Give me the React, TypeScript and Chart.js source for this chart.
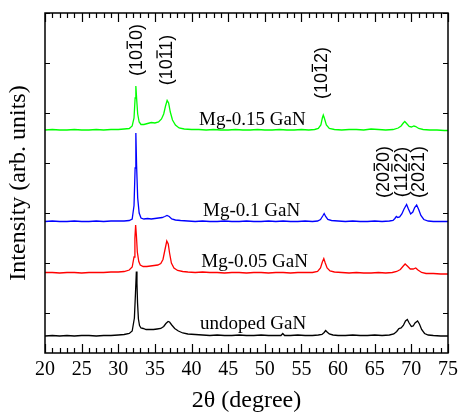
import { useEffect, useRef } from "react";
import { Chart, registerables } from "chart.js";

Chart.register(...registerables);

// ---- data (2θ in degrees, intensity in stacked arbitrary units) ----
const undopedTrace: number[][] = [
  [20, -0.46], [21, -0.45], [22, -0.46], [23, -0.45], [24, -0.46], [25, -0.45], [26, -0.45], [27, -0.46],
  [28, -0.45], [29, -0.45], [30, -0.44], [30.8, -0.43], [31.5, -0.41], [31.9, -0.36], [32.2, -0.1],
  [32.35, 0.4], [32.47, 0.83], [32.55, 0.6], [32.63, 0.2], [32.75, -0.12], [32.9, -0.25], [33.1, -0.3],
  [33.4, -0.31], [33.8, -0.33], [34.3, -0.33], [34.8, -0.33], [35.3, -0.32], [35.8, -0.31], [36.2, -0.27],
  [36.5, -0.21], [36.8, -0.17], [37.0, -0.18], [37.3, -0.24], [37.7, -0.31], [38.2, -0.36], [38.8, -0.4],
  [39.5, -0.42], [40.5, -0.43], [41.5, -0.44], [42.5, -0.45], [43.5, -0.44], [44.5, -0.45], [45.5, -0.45],
  [46.5, -0.44], [47.5, -0.45], [48.5, -0.45], [49.5, -0.44], [50.5, -0.45], [51.5, -0.45], [52.2, -0.45],
  [52.45, -0.41], [52.7, -0.45], [53.5, -0.45], [54.5, -0.44], [55.5, -0.45], [56.5, -0.45], [57.3, -0.44],
  [57.8, -0.43], [58.1, -0.39], [58.3, -0.35], [58.5, -0.38], [58.8, -0.42], [59.3, -0.44], [60, -0.45],
  [61, -0.45], [62, -0.44], [63, -0.45], [64, -0.45], [65, -0.44], [66, -0.45], [67, -0.44], [67.6, -0.42],
  [68.0, -0.37], [68.3, -0.31], [68.6, -0.3], [68.9, -0.25], [69.2, -0.16], [69.45, -0.13], [69.7, -0.2],
  [70.0, -0.27], [70.25, -0.26], [70.5, -0.2], [70.85, -0.16], [71.1, -0.22], [71.4, -0.33], [71.8, -0.41],
  [72.3, -0.44], [73, -0.45], [74, -0.46], [75, -0.46],
];

const mg005Trace: number[][] = [
  [20, 0.81], [21, 0.81], [22, 0.8], [23, 0.81], [24, 0.81], [25, 0.8], [26, 0.81], [27, 0.81], [28, 0.81],
  [29, 0.82], [30, 0.82], [30.8, 0.83], [31.5, 0.86], [31.9, 0.92], [32.15, 1.12], [32.27, 1.5], [32.37, 1.76],
  [32.47, 1.56], [32.6, 1.22], [32.8, 1.03], [33.0, 0.96], [33.4, 0.93], [33.9, 0.93], [34.4, 0.94],
  [34.9, 0.95], [35.4, 0.96], [35.8, 0.99], [36.1, 1.07], [36.35, 1.25], [36.62, 1.44], [36.82, 1.38],
  [37.0, 1.2], [37.25, 1.0], [37.6, 0.9], [38.1, 0.85], [38.8, 0.83], [39.5, 0.82], [40.5, 0.81],
  [41.5, 0.82], [42.5, 0.81], [43.5, 0.81], [44.5, 0.8], [45.5, 0.81], [46.5, 0.81], [47.5, 0.8],
  [48.5, 0.81], [49.5, 0.81], [50.5, 0.8], [51.5, 0.81], [52.5, 0.81], [53.5, 0.8], [54.5, 0.81],
  [55.5, 0.81], [56.5, 0.81], [57.2, 0.83], [57.6, 0.9], [57.85, 1.02], [58.05, 1.09], [58.25, 1.0],
  [58.5, 0.9], [58.9, 0.84], [59.5, 0.82], [60.5, 0.81], [61.5, 0.8], [62.5, 0.81], [63.5, 0.8],
  [64.5, 0.8], [65.5, 0.81], [66.5, 0.8], [67.4, 0.81], [68.0, 0.83], [68.5, 0.87], [68.9, 0.94],
  [69.15, 0.98], [69.45, 0.94], [69.85, 0.88], [70.25, 0.88], [70.6, 0.9], [70.9, 0.86], [71.4, 0.81],
  [72, 0.79], [73, 0.79], [74, 0.78], [75, 0.78],
];

const mg01Trace: number[][] = [
  [20, 1.83], [21, 1.84], [22, 1.83], [23, 1.83], [24, 1.84], [25, 1.83], [26, 1.83], [27, 1.84], [28, 1.83],
  [29, 1.84], [30, 1.84], [30.8, 1.84], [31.5, 1.85], [31.9, 1.88], [32.15, 2.15], [32.3, 2.9], [32.4, 3.6],
  [32.5, 2.95], [32.65, 2.3], [32.85, 2.0], [33.1, 1.9], [33.5, 1.88], [34.0, 1.89], [34.5, 1.88], [35.0, 1.89],
  [35.5, 1.9], [36.0, 1.91], [36.35, 1.93], [36.65, 1.95], [36.95, 1.93], [37.3, 1.88], [37.8, 1.86],
  [38.5, 1.85], [39.5, 1.84], [40.5, 1.83], [41.5, 1.84], [42.5, 1.83], [43.5, 1.83], [44.5, 1.84],
  [45.5, 1.83], [46.5, 1.83], [47.5, 1.84], [48.5, 1.83], [49.5, 1.83], [50.5, 1.84], [51.5, 1.83],
  [52.5, 1.84], [53.5, 1.83], [54.5, 1.83], [55.5, 1.84], [56.5, 1.83], [57.2, 1.84], [57.6, 1.87],
  [57.9, 1.94], [58.1, 1.99], [58.3, 1.93], [58.6, 1.87], [59.1, 1.85], [60, 1.84], [61, 1.83], [62, 1.84],
  [63, 1.83], [64, 1.83], [65, 1.84], [66, 1.83], [67, 1.84], [67.5, 1.85], [67.75, 1.89], [67.95, 1.93],
  [68.15, 1.91], [68.4, 1.92], [68.7, 1.98], [69.0, 2.08], [69.35, 2.17], [69.6, 2.08], [69.9, 1.98],
  [70.2, 2.02], [70.45, 2.11], [70.72, 2.16], [71.0, 2.07], [71.3, 1.95], [71.7, 1.87], [72.3, 1.84],
  [73, 1.83], [74, 1.83], [75, 1.83],
];

const mg015Trace: number[][] = [
  [20, 3.66], [21, 3.67], [22, 3.66], [23, 3.66], [24, 3.67], [25, 3.66], [26, 3.66], [27, 3.67], [28, 3.66],
  [29, 3.67], [30, 3.67], [30.8, 3.68], [31.5, 3.69], [31.9, 3.74], [32.15, 3.9], [32.3, 4.3], [32.4, 4.54],
  [32.5, 4.3], [32.65, 3.98], [32.85, 3.82], [33.1, 3.77], [33.5, 3.77], [34.0, 3.79], [34.5, 3.81],
  [35.0, 3.8], [35.5, 3.82], [35.9, 3.88], [36.2, 3.98], [36.45, 4.14], [36.67, 4.25], [36.87, 4.2],
  [37.1, 4.02], [37.4, 3.86], [37.8, 3.76], [38.3, 3.7], [39, 3.68], [40, 3.67], [41, 3.67], [42, 3.66],
  [43, 3.67], [44, 3.66], [45, 3.66], [46, 3.67], [47, 3.66], [48, 3.66], [49, 3.67], [50, 3.66], [51, 3.66],
  [52, 3.67], [53, 3.66], [54, 3.66], [55, 3.67], [56, 3.66], [56.8, 3.67], [57.3, 3.69], [57.65, 3.76],
  [57.85, 3.9], [57.98, 3.96], [58.12, 3.9], [58.4, 3.76], [58.8, 3.69], [59.5, 3.67], [60.5, 3.66],
  [61.5, 3.67], [62.5, 3.67], [63.5, 3.66], [64.5, 3.68], [65.5, 3.67], [66.5, 3.66], [67.5, 3.67],
  [68.2, 3.7], [68.6, 3.74], [68.9, 3.8], [69.1, 3.83], [69.35, 3.79], [69.7, 3.73], [70.0, 3.72],
  [70.35, 3.74], [70.6, 3.73], [71.0, 3.69], [71.6, 3.67], [72.5, 3.66], [73.5, 3.66], [74.5, 3.65], [75, 3.65],
];

const seriesColors = ["#000000", "#ff0000", "#0000ff", "#00ff00"];

const sampleLabels = ["undoped GaN", "Mg-0.05 GaN", "Mg-0.1 GaN", "Mg-0.15 GaN"];
const sampleLabelX = [48.4, 48.6, 48.2, 48.3];
const sampleLabelY = [-0.32, 0.93, 1.94, 3.76];

const peakLabels = ["(1010)", "(1011)", "(1012)", "(2020)", "(1122)", "(2021)"];
const peakBarIndex = [3, 3, 3, 3, 3, 3];
const peakLabelX = [32.58, 36.65, 57.85, 66.3, 68.7, 71.05];
const peakLabelY = [5.26, 5.06, 4.8, 2.82, 2.82, 2.82];

const xMin = 20;
const xMax = 75;
const yMin = -0.8;
const yMax = 6;
const yMajorTicks = [0, 1, 2, 3, 4, 5, 6];

const SERIF = "'Liberation Serif', 'Times New Roman', serif";
const SANS = "'Liberation Sans', Arial, sans-serif";

const framePlugin = {
  id: "frameTicks",
  afterDatasetsDraw(chart: any) {
    const { ctx, chartArea } = chart;
    const { left, right, top, bottom } = chartArea;
    const xs = chart.scales.x;
    const ys = chart.scales.y;
    ctx.save();
    ctx.strokeStyle = "#000";
    ctx.lineWidth = 1.5;
    ctx.strokeRect(left, top, right - left, bottom - top);
    ctx.lineWidth = 1.2;
    ctx.beginPath();
    for (let v = xMin; v <= xMax; v += 1) {
      const px = Math.round(xs.getPixelForValue(v)) + 0.5;
      const len = v % 5 === 0 ? 9 : 5;
      ctx.moveTo(px, bottom);
      ctx.lineTo(px, bottom - len);
      ctx.moveTo(px, top);
      ctx.lineTo(px, top + len);
    }
    for (const v of yMajorTicks) {
      const py = Math.round(ys.getPixelForValue(v)) + 0.5;
      ctx.moveTo(left, py);
      ctx.lineTo(left + 5, py);
      ctx.moveTo(right, py);
      ctx.lineTo(right - 5, py);
    }
    ctx.stroke();

    // sample names
    ctx.fillStyle = "#000";
    ctx.font = `19px ${SERIF}`;
    ctx.textAlign = "center";
    ctx.textBaseline = "alphabetic";
    sampleLabels.forEach((t, i) => {
      ctx.fillText(t, xs.getPixelForValue(sampleLabelX[i]), ys.getPixelForValue(sampleLabelY[i]));
    });

    // Miller-Bravais indices, rotated, with overbar
    const size = 18;
    ctx.font = `${size}px ${SANS}`;
    ctx.textAlign = "left";
    peakLabels.forEach((t, i) => {
      const cx = xs.getPixelForValue(peakLabelX[i]);
      const cy = ys.getPixelForValue(peakLabelY[i]);
      ctx.save();
      ctx.translate(cx, cy);
      ctx.rotate(-Math.PI / 2);
      const w = ctx.measureText(t).width;
      const x0 = -w / 2;
      const base = size * 0.27;
      ctx.fillText(t, x0, base);
      const bi = peakBarIndex[i];
      const pre = ctx.measureText(t.slice(0, bi)).width;
      const cw = ctx.measureText(t[bi]).width;
      ctx.fillRect(x0 + pre + 1, base - size * 0.86, cw - 2, 1.3);
      ctx.restore();
    });
    ctx.restore();
  },
};

export default function App() {
  const ref = useRef<HTMLCanvasElement | null>(null);

  useEffect(() => {
    document.body.style.margin = "0";
    const canvas = ref.current;
    if (!canvas) return;
    const traces = [undopedTrace, mg005Trace, mg01Trace, mg015Trace];
    const chart = new Chart(canvas, {
      type: "line",
      data: {
        datasets: traces.map((tr, i) => ({
          label: sampleLabels[i],
          data: tr.map((p) => ({ x: p[0], y: p[1] })),
          borderColor: seriesColors[i],
          borderWidth: 1.3,
          pointRadius: 0,
          tension: 0,
          fill: false,
        })),
      },
      options: {
        animation: false,
        responsive: false,
        devicePixelRatio: 1,
        layout: { padding: { top: 13, right: 7, left: 0, bottom: 0 } },
        plugins: { legend: { display: false }, tooltip: { enabled: false } },
        scales: {
          x: {
            type: "linear",
            min: xMin,
            max: xMax,
            afterFit: (s: any) => {
              s.height = 61;
            },
            grid: { display: false, drawTicks: false },
            border: { display: false },
            ticks: {
              stepSize: 5,
              autoSkip: false,
              maxRotation: 0,
              padding: 5,
              color: "#000",
              font: { family: SERIF, size: 20 },
            },
            title: {
              display: true,
              text: "2θ (degree)",
              color: "#000",
              font: { family: SERIF, size: 24, lineHeight: 1.1 },
              padding: 0,
            },
          },
          y: {
            type: "linear",
            min: yMin,
            max: yMax,
            afterFit: (s: any) => {
              s.width = 45;
            },
            grid: { display: false, drawTicks: false },
            border: { display: false },
            ticks: { display: false, stepSize: 1 },
            title: {
              display: true,
              text: "Intensity (arb. units)",
              color: "#000",
              font: { family: SERIF, size: 24, lineHeight: 1.2 },
              padding: { top: 4, bottom: 0 },
            },
          },
        },
      },
      plugins: [framePlugin],
    });
    return () => chart.destroy();
  }, []);

  return <canvas ref={ref} width={463} height={414} style={{ display: "block" }} />;
}
